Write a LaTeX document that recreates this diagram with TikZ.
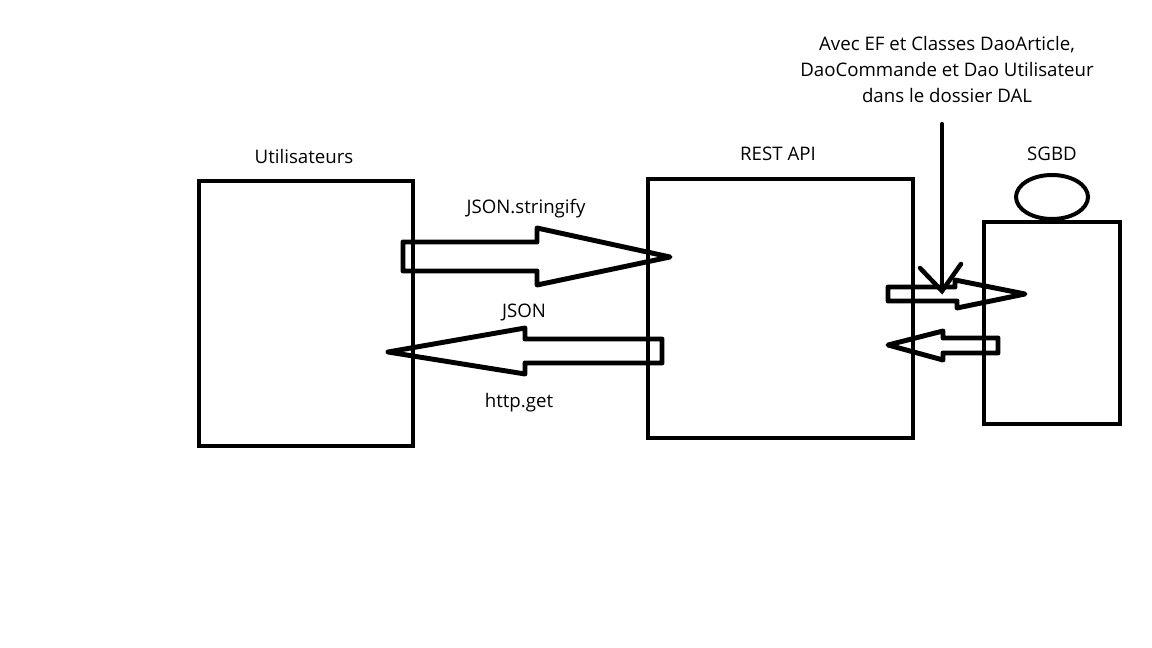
\documentclass[tikz,border=0pt]{standalone}
\usepackage{fontspec}
\setmainfont{Open Sans}
\usetikzlibrary{positioning}
\tikzset{
    boxline/.style={draw=black, line width=3.7pt, inner sep=0pt, outer sep=0pt},
    arrowline/.style={draw=black, line width=3.7pt, line join=round},
    penline/.style={draw=black, line width=3.4pt, line cap=round},
    caption/.style={font=\fontsize{14}{19.5}\selectfont, inner sep=0pt, align=center, text=black}
}
\begin{document}
\begin{tikzpicture}[x=0.75pt,y=-0.75pt]
    \useasboundingbox (0,0) rectangle (1152,648);
    % boxes
    \node[boxline, minimum width=160.5pt, minimum height=198.75pt] (users) at (306,313.5) {};
    \node[boxline, minimum width=198.75pt, minimum height=194.25pt] (api) at (780.5,308.5) {};
    \node[boxline, minimum width=102pt, minimum height=151.5pt] (sgbd) at (1052,323) {};
    \draw[draw=black, line width=3pt] (1052,197) ellipse (36 and 22);
    % labels
    \node[caption] (usersLabel) at (304,157) {Utilisateurs};
    \node[caption] (apiLabel) at (778,154) {REST API};
    \node[caption] (sgbdLabel) at (1052,154) {SGBD};
    \node[caption] (stringifyLabel) at (526,209) {JSON.stringify};
    \node[caption] (jsonLabel) at (524,312) {JSON};
    \node[caption] (getLabel) at (519,403) {http.get};
    \node[caption] (note) at (947,70) {Avec EF et Classes DaoArticle,\\DaoCommande et Dao Utilisateur\\dans le dossier DAL};
    % block arrows
    \draw[arrowline] (403,242) -- (537,242) -- (537,228) -- (670,257) -- (537,285) -- (537,271) -- (403,271) -- cycle;
    \draw[arrowline] (388,352) -- (525,328) -- (525,339) -- (662,339) -- (662,363) -- (525,363) -- (525,374) -- cycle;
    \draw[arrowline] (888,287) -- (955,287) -- (955,280) -- (1025,294) -- (957,308) -- (957,301) -- (888,301) -- cycle;
    \draw[arrowline] (888,345) -- (943,331) -- (943,338) -- (998,338) -- (998,353) -- (943,353) -- (943,360) -- cycle;
    % hand drawn arrow
    \coordinate (noteTip) at (942,291);
    \coordinate (barbLeft) at (920,268);
    \coordinate (barbRight) at (961,264);
    \draw[penline, shorten <=15.5pt] (note.south -| noteTip) -- (noteTip);
    \draw[penline] (barbLeft) -- (noteTip) -- (barbRight);
\end{tikzpicture}
\end{document}
